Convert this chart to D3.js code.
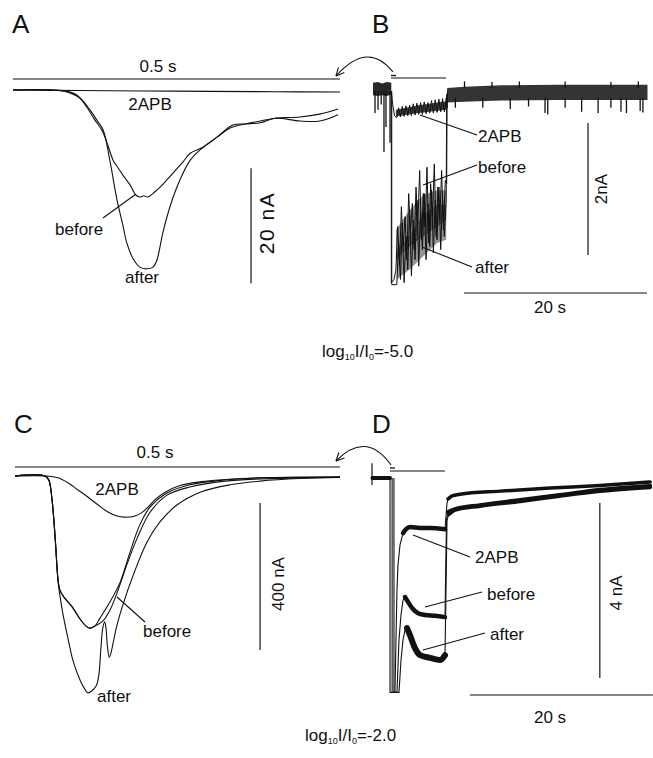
<!DOCTYPE html>
<html><head><meta charset="utf-8">
<script src="https://cdn.jsdelivr.net/npm/d3@7"></script>
<style>
body{margin:0;background:#fff;}
svg text{font-family:"Liberation Sans",Arial,sans-serif;fill:#111;}
</style></head><body>
<svg id="fig" width="653" height="758"></svg>
<script>
// ================= DATA =================
// Panel A : time (ms), current (nA)
const A_2APB   = [[0,0],[100,-0.1],[250,-0.2],[400,-0.3],[500,-0.35]];
const A_before = [[0,0],[61,0],[82,-0.2],[99,-1.0],[113,-3.0],[125,-5.2],[136,-7.0],[145,-9.6],[153,-12.2],[161,-13.6],[168,-14.8],[179,-16.5],[188,-18.3],[194,-18.6],[200,-18.4],[206,-18.6],[217,-17.7],[225,-16.9],[245,-14.4],[260,-12.5],[271,-11.0],[291,-9.9],[312,-8.2],[336,-6.1],[355,-5.9],[378,-5.7],[401,-4.9],[439,-5.4],[469,-5.4],[497,-4.3]];
const A_after  = [[0,0],[61,0],[82,-0.35],[102,-1.4],[118,-3.5],[128,-5.2],[138,-7.0],[148,-12.2],[159,-19.1],[168,-23.5],[174,-26.6],[183,-29.2],[194,-30.8],[205,-31.1],[214,-30.8],[220,-29.6],[229,-24.9],[240,-20.3],[255,-15.7],[271,-12.2],[286,-10.4],[312,-8.2],[332,-6.6],[355,-5.9],[378,-5.4],[401,-4.9],[439,-4.7],[469,-4.2],[497,-3.3]];

// Panel B : time (s), current (nA)
const B_preBand   = [[0,0.08,-0.11],[0.5,0.09,-0.12],[1.0,0.07,-0.11],[1.5,0.09,-0.12],[2.0,0.08,-0.10]];
const B_preSpikes = [[0.22,-0.38],[0.55,-0.33],[0.9,-0.25],[1.2,-0.97],[1.42,-0.59],[1.86,-0.83]];
const B_2APB = [[2.0,-0.05],[2.15,-0.25],[2.35,-0.42],[2.6,-0.45],[2.8,-0.30],[3.0,-0.44],[3.2,-0.28],[3.4,-0.43],[3.6,-0.27],[3.8,-0.42],[4.0,-0.26],[4.2,-0.42],[4.4,-0.24],[4.6,-0.41],[4.8,-0.23],[5.0,-0.40],[5.2,-0.22],[5.4,-0.40],[5.6,-0.21],[5.8,-0.39],[6.0,-0.22],[6.2,-0.38],[6.4,-0.19],[6.6,-0.38],[6.8,-0.18],[7.0,-0.37],[7.2,-0.17],[7.4,-0.36],[7.6,-0.16],[7.8,-0.36],[8.0,-0.15],[8.1,-0.30],[8.15,-0.05]];
const B_2APBcore = [[2.5,-0.33,-0.43],[5,-0.26,-0.38],[8,-0.20,-0.33]];
const B_before = [[2.0,-0.05],[2.0,-2.95],[2.3,-2.90],[2.5,-2.76],[2.7,-2.10],[2.9,-2.70],[3.1,-1.80],[3.3,-2.40],[3.5,-1.95],[3.7,-2.60],[3.9,-1.60],[4.1,-2.20],[4.3,-1.75],[4.5,-2.45],[4.7,-1.50],[4.9,-2.05],[5.1,-1.25],[5.3,-2.30],[5.5,-1.60],[5.7,-2.10],[5.9,-1.20],[6.1,-2.35],[6.3,-1.45],[6.5,-1.95],[6.7,-1.15],[6.9,-2.25],[7.1,-1.50],[7.3,-2.00],[7.5,-1.25],[7.7,-2.15],[7.9,-1.40],[8.05,-1.45],[8.1,-0.08]];
const B_after  = [[2.05,-0.05],[2.05,-2.98],[2.6,-2.98],[2.8,-2.35],[3.0,-2.90],[3.2,-2.05],[3.4,-2.95],[3.6,-2.25],[3.8,-2.75],[4.0,-1.85],[4.2,-2.85],[4.4,-2.00],[4.6,-2.60],[4.8,-1.70],[5.0,-2.70],[5.2,-1.85],[5.4,-2.45],[5.6,-1.60],[5.8,-2.60],[6.0,-1.75],[6.2,-2.40],[6.4,-1.55],[6.6,-2.50],[6.8,-1.70],[7.0,-2.30],[7.2,-1.50],[7.4,-2.45],[7.6,-1.65],[7.8,-2.25],[8.0,-1.70],[8.05,-0.10]];
const B_beforeCore = [[2.5,-2.15,-2.60],[4,-1.85,-2.40],[5.5,-1.62,-2.25],[7,-1.55,-2.10],[8.0,-1.55,-2.00]];
const B_afterCore  = [[2.6,-2.45,-2.90],[4,-2.23,-2.75],[5.5,-1.92,-2.55],[7,-1.77,-2.35],[8.0,-1.77,-2.30]];
const B_postBand   = [[8.1,0.0,-0.22],[10,0.02,-0.21],[14,0.04,-0.19],[20,0.05,-0.18],[25,0.05,-0.18],[30,0.05,-0.18]];
const B_postSpikes = [[9.0,-0.30],[12.0,-0.30],[15.0,-0.32],[17.0,-0.28],[18.8,-0.38],[19.1,-0.40],[21.0,-0.30],[22.8,-0.36],[24.6,-0.38],[26.0,-0.30],[27.1,-0.36],[27.7,-0.38],[29.2,-0.35],[29.5,-0.37]];
const B_postUp     = [[10,0.10],[13,0.09],[16,0.10],[21,0.10],[26,0.09],[29,0.10]];

// Panel C : time (ms), current (nA)
const C_2APB    = [[0,0],[49,0],[66,-5],[82,-19],[97,-38],[112,-57],[128,-79],[143,-98],[157,-109],[169,-112],[182,-110],[194,-101],[205,-84],[215,-65],[231,-44],[254,-26],[285,-16],[335,-8],[408,-4],[500,-3]];
const C_before  = [[0,0],[46,0],[52,-11],[57,-65],[62,-174],[66,-278],[69,-310],[75,-329],[88,-356],[100,-389],[109,-408],[115,-414],[123,-408],[131,-386],[146,-343],[162,-288],[177,-207],[192,-133],[208,-84],[234,-46],[269,-24],[320,-11],[377,-5],[500,-3]];
const C_before2 = [[0,0],[46,0],[52,-11],[57,-65],[62,-174],[66,-278],[69,-310],[75,-329],[88,-356],[100,-389],[109,-408],[115,-414],[123,-408],[135,-395],[146,-365],[154,-332],[163,-288],[172,-242],[188,-169],[208,-98],[234,-52],[269,-30],[323,-14],[377,-8],[500,-3]];
const C_after   = [[0,0],[46,0],[52,-11],[57,-65],[62,-174],[66,-283],[69,-324],[74,-378],[82,-446],[89,-501],[100,-555],[108,-582],[112,-590],[118,-585],[125,-571],[129,-541],[132,-473],[135,-414],[138,-397],[140,-414],[142,-460],[145,-493],[148,-479],[151,-454],[157,-405],[165,-356],[182,-269],[203,-180],[223,-125],[249,-79],[285,-44],[331,-24],[377,-14],[438,-7],[500,-4]];

// Panel D : time (s), current (nA)
const D_pre    = [[0.05,0],[1.97,0]];
const D_tick   = [[0,0.34],[0,-0.16]];
const D_2APB   = [[1.97,0],[1.97,-4.9],[2.51,-4.9],[2.62,-3.70],[2.73,-2.56],[2.84,-1.99],[3.06,-1.53],[3.39,-1.26],[3.72,-1.17],[4.15,-1.12],[5.25,-1.14],[6.34,-1.14],[7.98,-1.17],[8.2,-0.57],[8.31,-0.48],[8.74,-0.41],[9.62,-0.37],[14.0,-0.30],[19.45,-0.23],[24.9,-0.17],[30.4,-0.09]];
const D_before = [[2.2,0],[2.2,-4.9],[2.73,-4.9],[2.95,-3.70],[3.17,-3.13],[3.39,-2.79],[3.61,-2.72],[3.93,-2.83],[4.37,-2.97],[5.03,-3.09],[5.79,-3.13],[6.89,-3.15],[7.98,-3.18],[8.14,-0.96],[8.31,-0.78],[9.07,-0.71],[11.8,-0.62],[16.2,-0.50],[20.5,-0.39],[24.9,-0.27],[30.4,-0.18]];
const D_after  = [[2.4,0],[2.4,-4.9],[2.95,-4.9],[3.17,-4.16],[3.39,-3.70],[3.61,-3.47],[3.83,-3.43],[4.15,-3.59],[4.70,-3.89],[5.25,-4.05],[6.34,-4.11],[7.43,-4.16],[7.98,-4.05],[8.2,-0.96],[8.42,-0.82],[9.07,-0.73],[11.8,-0.64],[16.2,-0.53],[20.5,-0.41],[24.9,-0.30],[30.4,-0.21]];

// scale-bar values and labels
const barValues = {A:[20,"20 nA"], B:[2,"2nA"], C:[400,"400 nA"], D:[4,"4 nA"]};
const timeBars  = {B:[20,"20 s"], D:[20,"20 s"]};
const stimLabels = ["0.5 s","0.5 s"];
const conditions = ["-5.0","-2.0"];

// ================= DRAWING =================
const svg = d3.select('#fig');
const ink = '#111';

const P = {
  A:{x:d3.scaleLinear().domain([0,500]).range([13,340]), y:d3.scaleLinear().domain([0,-40]).range([90,320])},
  B:{x:d3.scaleLinear().domain([0,30]).range([373,647.5]), y:d3.scaleLinear().domain([0,-3.5]).range([88,319])},
  C:{x:d3.scaleLinear().domain([0,500]).range([15,340]), y:d3.scaleLinear().domain([0,-700]).range([476,733.25])},
  D:{x:d3.scaleLinear().domain([0,30]).range([372,646.5]), y:d3.scaleLinear().domain([0,-5]).range([478,696.75])}
};

function trace(p, data, curve, w){
  svg.append('path').datum(data)
    .attr('d', d3.line().x(d=>p.x(d[0])).y(d=>p.y(d[1])).curve(curve||d3.curveLinear))
    .attr('fill','none').attr('stroke',ink).attr('stroke-width',w||1.1).attr('stroke-linejoin','round');
}
function band(p, data, op){
  svg.append('path').datum(data)
    .attr('d', d3.area().x(d=>p.x(d[0])).y0(d=>p.y(d[2])).y1(d=>p.y(d[1])))
    .attr('fill',ink).attr('fill-opacity',op==null?1:op);
}
function spikes(p, data, from){
  svg.append('g').selectAll('line').data(data).join('line')
    .attr('x1',d=>p.x(d[0])).attr('x2',d=>p.x(d[0]))
    .attr('y1',p.y(from)).attr('y2',d=>p.y(d[1]))
    .attr('stroke',ink).attr('stroke-width',1.3);
}
function seg(x1,y1,x2,y2,w){
  svg.append('line').attr('x1',x1).attr('y1',y1).attr('x2',x2).attr('y2',y2)
    .attr('stroke',ink).attr('stroke-width',w||1.1);
}
function txt(x,y,s,size,anchor,rot){
  const t = svg.append('text').attr('font-size',size||17).attr('text-anchor',anchor||'start').text(s);
  if(rot) t.attr('transform',`translate(${x},${y}) rotate(${rot})`);
  else t.attr('x',x).attr('y',y);
  return t;
}
function noisy(p, data, t0, t1, w){
  const sub = data.filter(d=>d[0]>=t0 && d[0]<=t1);
  svg.append('path').datum(sub)
    .attr('d', d3.line().x(d=>p.x(d[0])).y(d=>p.y(d[1])).curve(d3.curveMonotoneX))
    .attr('fill','none').attr('stroke',ink).attr('stroke-width',w).attr('stroke-linecap','round');
}
function arrow(x0,y0,cx,cy,x1,y1){
  svg.append('path').attr('d',`M${x0},${y0}Q${cx},${cy} ${x1},${y1}`)
    .attr('fill','none').attr('stroke',ink).attr('stroke-width',1.1);
  const a = Math.atan2(y1-cy, x1-cx), L = 9;
  [0.45,-0.45].forEach(da=>{
    seg(x1,y1,x1-L*Math.cos(a+da),y1-L*Math.sin(a+da),1.1);
  });
}

// ---------- Panel letters ----------
txt(12,33,'A',26); txt(372,33,'B',26); txt(14,433,'C',26); txt(372,433,'D',26);

// ---------- Panel A ----------
(function(){
  const p = P.A, cr = d3.curveCatmullRom.alpha(0.5);
  seg(p.x(0),79,p.x(500),79,1.2);
  txt(158,72,stimLabels[0],17,'middle');
  trace(p,A_2APB,cr,1.1);
  trace(p,A_before,cr,1.1);
  trace(p,A_after,cr,1.1);
  txt(150,110,'2APB',17,'middle');
  txt(55,235,'before',17);
  txt(125,283,'after',17);
  seg(103,218,136,194);
  seg(p.x(364),p.y(-13.6),p.x(364),p.y(-13.6-barValues.A[0]),1.2);
  txt(274,223,barValues.A[1],21,'middle',-90).attr('letter-spacing',1.5);
})();

// ---------- Panel B ----------
(function(){
  const p = P.B;
  seg(391,75.5,396,75.5,1.3);
  seg(391,78,446,78,1.2);
  band(p,B_preBand,0.9);
  spikes(p,B_preSpikes,-0.05);
  band(p,B_2APBcore,0.8);
  trace(p,B_2APB,null,1.0);
  band(p,B_beforeCore,0.45);
  band(p,B_afterCore,0.45);
  trace(p,B_before,null,1.0);
  trace(p,B_after,null,1.0);
  band(p,B_postBand,0.85);
  spikes(p,B_postSpikes,-0.15);
  spikes(p,B_postUp,0);
  txt(478,142,'2APB',17);
  txt(478,173,'before',17);
  txt(475,273,'after',17);
  seg(420,115,477,135); seg(423,185,477,165); seg(422,247,472,267);
  seg(p.x(23.5),p.y(-0.53),p.x(23.5),p.y(-0.53-barValues.B[0]),1.2);
  txt(607,189,barValues.B[1],17,'middle',-90);
  seg(p.x(9.95),p.y(-3.106),p.x(9.95+timeBars.B[0]),p.y(-3.106),1.2);
  txt(550,313,timeBars.B[1],17,'middle');
})();
arrow(393,72,368,40,336,76);

// ---------- Panel C ----------
(function(){
  const p = P.C, cr = d3.curveCatmullRom.alpha(0.5);
  seg(p.x(0),467,p.x(500),467,1.2);
  txt(155,458,stimLabels[1],17,'middle');
  trace(p,C_2APB,cr,1.1);
  trace(p,C_before,cr,1.1);
  trace(p,C_before2,cr,1.1);
  trace(p,C_after,cr,1.1);
  txt(117,495,'2APB',17,'middle');
  txt(143,637,'before',17);
  txt(97,702,'after',17);
  seg(117,597,145,622);
  seg(p.x(377),p.y(-73.5),p.x(377),p.y(-73.5-barValues.C[0]),1.2);
  txt(284,584,barValues.C[1],17,'middle',-90);
})();

// ---------- Panel D ----------
(function(){
  const p = P.D;
  seg(390,468,395,468,1.3);
  seg(390,471,445,471,1.2);
  noisy(p,D_pre,0,2,4);
  trace(p,D_tick,null,1.2);
  trace(p,D_2APB,null,1.1);
  trace(p,D_before,null,1.1);
  trace(p,D_after,null,1.1);
  noisy(p,D_2APB,3.3,8.0,4.5);
  noisy(p,D_before,3.5,8.0,4.5);
  noisy(p,D_after,3.7,8.0,6);
  noisy(p,D_2APB,8.3,31,3.5);
  noisy(p,D_before,8.3,31,4);
  noisy(p,D_after,8.4,31,4);
  txt(475,563,'2APB',17);
  txt(487,600,'before',17);
  txt(490,640,'after',17);
  seg(413,535,470,557); seg(425,607,482,592); seg(423,650,485,633);
  seg(p.x(24.9),p.y(-0.571),p.x(24.9),p.y(-0.571-barValues.D[0]),1.2);
  txt(622,593,barValues.D[1],17,'middle',-90);
  seg(p.x(10.7),p.y(-4.96),p.x(10.7+timeBars.D[0]),p.y(-4.96),1.2);
  txt(550,723,timeBars.D[1],17,'middle');
})();
arrow(391,465,366,430,336,461);

// ---------- condition labels ----------
function cond(x,y,val){
  const t = svg.append('text').attr('x',x).attr('y',y).attr('font-size',17);
  t.append('tspan').text('log');
  t.append('tspan').attr('font-size',9).attr('dy',3).text('10');
  t.append('tspan').attr('dy',-3).text('I/I');
  t.append('tspan').attr('font-size',9).attr('dy',3).text('0');
  t.append('tspan').attr('dy',-3).text('='+val);
}
cond(322,357,conditions[0]);
cond(305,741,conditions[1]);
</script>
</body></html>
